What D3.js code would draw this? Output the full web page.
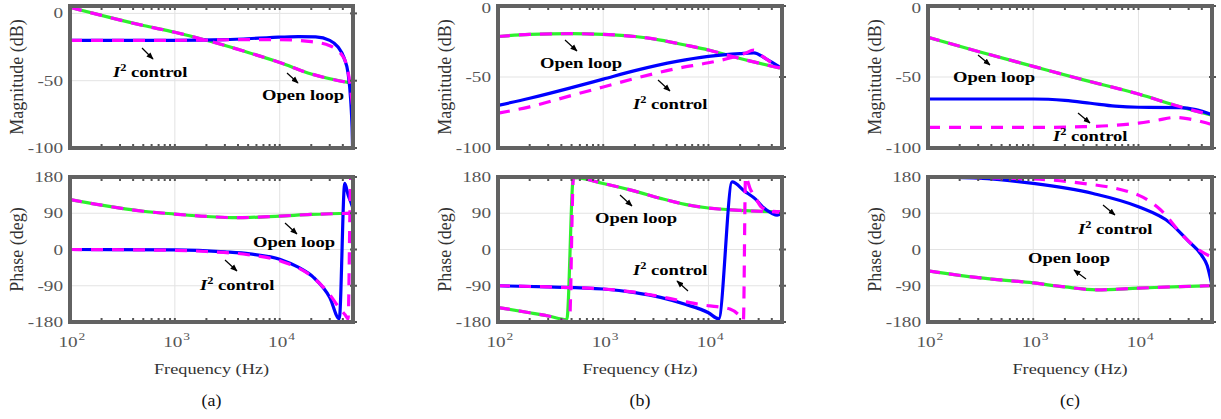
<!DOCTYPE html>
<html>
<head>
<meta charset="utf-8">
<script src="https://cdn.jsdelivr.net/npm/d3@7"></script>
<style>
  body { margin: 0; background: #fff; }
  svg { display: block; font-family: "Liberation Serif", "Times New Roman", serif; }
</style>
</head>
<body>
<div id="chart"></div>
<script>
/* * * * * * * * * * * * * *
*     BODE PLOT DATA       *
* * * * * * * * * * * * * */

// [frequency (Hz), value]
// (a) magnitude (dB)
const aMagOpen   = [[100,4.5],[200,-1.5],[500,-9],[1000,-14],[2000,-20],[5000,-29],[10000,-36.5],[20000,-45],[50000,-52]];
const aMagI2     = [[100,-20],[1000,-20],[3000,-19.5],[8000,-18],[15000,-17.2],[22000,-17.5],[30000,-20],[36000,-25],[40800,-32.5],[45000,-45],[47500,-64],[49000,-85],[50000,-112]];
const aMagI2Dash = [[100,-20],[1000,-20],[5000,-19.5],[10000,-19.5],[20000,-21],[30000,-24],[40800,-33],[45500,-46],[50000,-72]];
// (a) phase (deg)
const aPhOpen    = [[100,124],[200,110],[500,95],[1000,88],[2000,82],[4000,79],[10000,83],[20000,87],[50000,90]];
const aPhI2      = [[100,0],[1000,-1],[3000,-6],[5200,-11],[10000,-24],[15000,-44],[21000,-69],[30000,-119],[37000,-172],[41700,164],[45000,135],[48500,112],[50000,102]];
const aPhI2Dash  = [[100,0],[1000,-2],[2000,-5],[5000,-13],[10000,-28],[20000,-66],[30000,-112],[37000,-145],[42000,-162],[44900,-172],[47600,179],[50000,179]];

// (b) magnitude (dB)
const bMagOpen   = [[100,-21.5],[200,-20],[500,-19.5],[1000,-20],[2000,-21.5],[3500,-24],[6000,-27.5],[10000,-31],[20000,-37],[50000,-44]];
const bMagI2     = [[100,-70],[200,-65],[500,-57.5],[1000,-51.5],[2000,-45.5],[5000,-39],[10000,-35.5],[20000,-33.5],[27000,-33],[35000,-37],[50000,-44]];
const bMagI2Dash = [[100,-75.5],[200,-71],[500,-63],[1000,-57],[2000,-51],[5000,-44],[10000,-40],[16300,-36.5],[22000,-33.5],[27000,-31],[32000,-35],[40000,-40],[50000,-44]];
// (b) phase (deg)
const bPhOpen     = [[100,-144],[200,-157],[300,-165],[451,-174],[521,179],[1000,164],[2000,145],[3500,127],[6000,112],[10000,103],[20000,97],[50000,93]];
const bPhOpenDash = [[100,-144],[200,-157],[300,-165],[478,-180],[521,179],[1000,164],[2000,145],[3500,127],[6000,112],[10000,103],[20000,97],[50000,93]];
const bPhI2       = [[100,-90],[300,-93],[1000,-98],[2000,-107],[3500,-119],[6000,-136],[10000,-157],[12500,-172],[16800,168],[22000,145],[28000,125],[33000,105],[40000,90],[45000,85],[50000,92]];
const bPhI2Dash   = [[100,-90],[300,-93],[1000,-98],[2000,-106],[3500,-117],[5400,-127],[9000,-138],[12000,-142],[16000,-148],[19000,-160],[21500,-175],[22500,180],[25000,150],[28000,128],[32000,105],[40000,95],[50000,93]];

// (c) magnitude (dB)
const cMagOpen   = [[100,-22],[300,-32],[1000,-42.5],[3000,-52],[10000,-62],[25000,-71],[50000,-77]];
const cMagI2     = [[100,-65.5],[1000,-65.5],[2000,-66.5],[3500,-68.5],[6000,-70.5],[10000,-71.3],[25000,-71.5],[35000,-73],[50000,-76.5]];
const cMagI2Dash = [[100,-85.5],[1000,-85.5],[3000,-85],[6000,-84],[10000,-82.5],[15000,-80.5],[22000,-78.5],[30000,-79.5],[40000,-81.5],[50000,-83.5]];
// (c) phase (deg)
const cPhOpen    = [[100,-53],[300,-70],[1000,-83],[2000,-93],[4000,-100],[10000,-96],[25000,-92],[50000,-90]];
const cPhI2      = [[100,180],[300,177],[1000,164],[3700,139],[10000,106],[20000,66],[30000,20],[40000,-15],[45000,-40],[50000,-90]];
const cPhI2Dash  = [[100,180],[1000,175],[2600,166],[10000,135],[16000,100],[27000,32],[38000,-2],[50000,-19]];

// axis settings
const freqDomain = [100, 50000];
const freqTicks  = [100, 1000, 10000];
const magTicks   = [0, -50, -100];
const phTicks    = [180, 90, 0, -90, -180];

/* * * * * * * * * * * * * *
*         LAYOUT           *
* * * * * * * * * * * * * */

const W = 1221, H = 419;
const MAG_BOX = { top: 6, bottom: 148 };
const PH_BOX = { top: 177, bottom: 322 };

const GREEN = "#2ef02e", BLUE = "#0000ff", MAGENTA = "#ff00ff";
const DASH = "12,9";

const svg = d3.select("#chart").append("svg")
    .attr("width", W)
    .attr("height", H);

// arrow head marker
svg.append("defs").append("marker")
    .attr("id", "arrow")
    .attr("viewBox", "0 0 10 10")
    .attr("refX", 9).attr("refY", 5)
    .attr("markerWidth", 6).attr("markerHeight", 6)
    .attr("orient", "auto")
    .append("path")
    .attr("d", "M0,1 L10,5 L0,9 Z")
    .attr("fill", "#000");

// text that is a bit wider than normal (picture was stretched sideways)
function stretchText(g, x, y, size, sx, anchor) {
    return g.append("text")
        .attr("transform", `translate(${x},${y}) scale(${sx},1)`)
        .attr("text-anchor", anchor)
        .style("font-size", size + "px");
}

class BodePanel {
    constructor(svg, cfg) {
        this.svg = svg;
        this.cfg = cfg;
        this.initVis();
    }

    initVis() {
        let vis = this;

        vis.g = vis.svg.append("g");

        vis.x = d3.scaleLog().domain(freqDomain).range([vis.cfg.left, vis.cfg.right]);
        vis.yMag = d3.scaleLinear().domain(vis.cfg.magDomain).range([MAG_BOX.bottom, MAG_BOX.top]);
        vis.yPh = d3.scaleLinear().domain([-180, 180]).range([PH_BOX.bottom, PH_BOX.top]);

        vis.drawBox(MAG_BOX, vis.yMag, magTicks, "Magnitude (dB)", vis.cfg.magSeries, vis.cfg.magNotes, false);
        vis.drawBox(PH_BOX, vis.yPh, phTicks, "Phase (deg)", vis.cfg.phSeries, vis.cfg.phNotes, true);

        // x label + panel tag
        let cx = (vis.cfg.left + vis.cfg.right) / 2;
        stretchText(vis.g, cx, 374, 15.5, 1.18, "middle")
            .attr("fill", "#333")
            .text("Frequency (Hz)");
        stretchText(vis.g, cx, 406, 17, 1.05, "middle")
            .attr("fill", "#111")
            .text(`(${vis.cfg.tag})`);
    }

    drawBox(box, y, yTicks, yLabel, series, notes, showX) {
        let vis = this;
        let left = vis.cfg.left, right = vis.cfg.right;
        let clipId = `clip-${vis.cfg.tag}-${box.top}`;

        vis.g.append("clipPath").attr("id", clipId)
            .append("rect")
            .attr("x", left).attr("y", box.top)
            .attr("width", right - left).attr("height", box.bottom - box.top);

        // grid
        let grid = vis.g.append("g").attr("stroke", "#e3e3e3").attr("stroke-width", 1);
        grid.selectAll(".vgrid")
            .data(freqTicks.filter(f => f > freqDomain[0]))
            .enter().append("line")
            .attr("x1", d => vis.x(d)).attr("x2", d => vis.x(d))
            .attr("y1", box.top).attr("y2", box.bottom);
        grid.selectAll(".hgrid")
            .data(yTicks)
            .enter().append("line")
            .attr("x1", left).attr("x2", right)
            .attr("y1", d => y(d)).attr("y2", d => y(d));

        // curves
        let line = d3.line()
            .x(d => vis.x(d[0]))
            .y(d => y(d[1]))
            .curve(d3.curveMonotoneX);

        let lines = vis.g.append("g").attr("clip-path", `url(#${clipId})`);
        series.forEach(s => {
            lines.append("path")
                .datum(s.data)
                .attr("d", line)
                .attr("fill", "none")
                .attr("stroke", s.color)
                .attr("stroke-width", 3.2)
                .attr("stroke-dasharray", s.dash ? DASH : null);
        });

        // minor/major ticks on top + bottom edges
        let minor = [];
        [100, 1000, 10000].forEach(dec => {
            for (let k = 1; k <= 9; k++) {
                let f = k * dec;
                if (f > freqDomain[0] && f < freqDomain[1]) minor.push(f);
            }
        });
        let ticks = vis.g.append("g").attr("stroke", "#555").attr("stroke-width", 2);
        ticks.selectAll(".tb")
            .data(minor)
            .enter().append("line")
            .attr("x1", d => vis.x(d)).attr("x2", d => vis.x(d))
            .attr("y1", box.bottom).attr("y2", box.bottom - 4);
        ticks.selectAll(".tt")
            .data(minor)
            .enter().append("line")
            .attr("x1", d => vis.x(d)).attr("x2", d => vis.x(d))
            .attr("y1", box.top).attr("y2", box.top + 4);
        ticks.selectAll(".tr")
            .data(yTicks)
            .enter().append("line")
            .attr("x1", right - 3).attr("x2", right + 4)
            .attr("y1", d => y(d)).attr("y2", d => y(d));

        // frame
        vis.g.append("rect")
            .attr("x", left).attr("y", box.top)
            .attr("width", right - left).attr("height", box.bottom - box.top)
            .attr("fill", "none")
            .attr("stroke", "#626262")
            .attr("stroke-width", 4);

        // y tick labels (keep the top one inside the window)
        yTicks.forEach(t => {
            stretchText(vis.g, left - 7, Math.max(y(t) + 5, 13), 15, 1.28, "end")
                .attr("fill", "#555")
                .text(t);
        });

        // y label
        vis.g.append("text")
            .attr("transform", `translate(${left - 47},${(box.top + box.bottom) / 2}) rotate(-90)`)
            .attr("text-anchor", "middle")
            .attr("fill", "#333")
            .style("font-size", "18px")
            .text(yLabel);

        // x tick labels (10^n)
        if (showX) {
            freqTicks.forEach(f => {
                let px = vis.x(f);
                stretchText(vis.g, px - 2, 347, 15, 1.28, "middle")
                    .attr("fill", "#555")
                    .text("10");
                stretchText(vis.g, px + 8.5, 340, 10.5, 1.28, "start")
                    .attr("fill", "#555")
                    .text(Math.round(Math.log10(f)));
            });
        }

        // annotations
        notes.forEach(n => {
            let t = stretchText(vis.g, n.x, n.y, 15, 1.24, "start")
                .attr("fill", "#000")
                .style("font-weight", "bold");
            if (n.kind === "open") {
                t.text("Open loop");
            } else {
                t.append("tspan").style("font-style", "italic").text("I");
                t.append("tspan").attr("dy", -6).style("font-size", "10px").text("2");
                t.append("tspan").attr("dy", 6).text(" control");
            }
            vis.g.append("line")
                .attr("x1", n.a[0]).attr("y1", n.a[1])
                .attr("x2", n.a[2]).attr("y2", n.a[3])
                .attr("stroke", "#000")
                .attr("stroke-width", 1.2)
                .attr("marker-end", "url(#arrow)");
        });
    }
}

/* * * * * * * * * * * * * *
*        PANELS            *
* * * * * * * * * * * * * */

new BodePanel(svg, {
    tag: "a", left: 70, right: 353, magDomain: [-100, 5.5],
    magSeries: [
        { data: aMagOpen, color: GREEN }, { data: aMagI2, color: BLUE },
        { data: aMagOpen, color: MAGENTA, dash: true }, { data: aMagI2Dash, color: MAGENTA, dash: true }
    ],
    phSeries: [
        { data: aPhOpen, color: GREEN }, { data: aPhI2, color: BLUE },
        { data: aPhOpen, color: MAGENTA, dash: true }, { data: aPhI2Dash, color: MAGENTA, dash: true }
    ],
    magNotes: [
        { kind: "i2", x: 113, y: 77, a: [142, 48, 153, 59] },
        { kind: "open", x: 262, y: 100, a: [287, 73, 298, 83] }
    ],
    phNotes: [
        { kind: "open", x: 253, y: 247, a: [285, 223, 297, 234] },
        { kind: "i2", x: 200, y: 290, a: [225, 260, 237, 271] }
    ]
});

new BodePanel(svg, {
    tag: "b", left: 498, right: 782, magDomain: [-100, 0],
    magSeries: [
        { data: bMagOpen, color: GREEN }, { data: bMagI2, color: BLUE },
        { data: bMagOpen, color: MAGENTA, dash: true }, { data: bMagI2Dash, color: MAGENTA, dash: true }
    ],
    phSeries: [
        { data: bPhOpen, color: GREEN }, { data: bPhI2, color: BLUE },
        { data: bPhOpenDash, color: MAGENTA, dash: true }, { data: bPhI2Dash, color: MAGENTA, dash: true }
    ],
    magNotes: [
        { kind: "open", x: 540, y: 68, a: [565, 40, 577, 51] },
        { kind: "i2", x: 633, y: 109, a: [658, 80, 670, 91] }
    ],
    phNotes: [
        { kind: "open", x: 595, y: 223, a: [620, 195, 632, 206] },
        { kind: "i2", x: 633, y: 275, a: [688, 291, 677, 281] }
    ]
});

new BodePanel(svg, {
    tag: "c", left: 928, right: 1212, magDomain: [-100, 0],
    magSeries: [
        { data: cMagOpen, color: GREEN }, { data: cMagI2, color: BLUE },
        { data: cMagOpen, color: MAGENTA, dash: true }, { data: cMagI2Dash, color: MAGENTA, dash: true }
    ],
    phSeries: [
        { data: cPhOpen, color: GREEN }, { data: cPhI2, color: BLUE },
        { data: cPhOpen, color: MAGENTA, dash: true }, { data: cPhI2Dash, color: MAGENTA, dash: true }
    ],
    magNotes: [
        { kind: "open", x: 953, y: 82, a: [978, 55, 990, 65] },
        { kind: "i2", x: 1053, y: 141, a: [1078, 113, 1090, 123] }
    ],
    phNotes: [
        { kind: "i2", x: 1078, y: 234, a: [1103, 205, 1115, 215] },
        { kind: "open", x: 1028, y: 263, a: [1086, 279, 1074, 270] }
    ]
});
</script>
</body>
</html>
